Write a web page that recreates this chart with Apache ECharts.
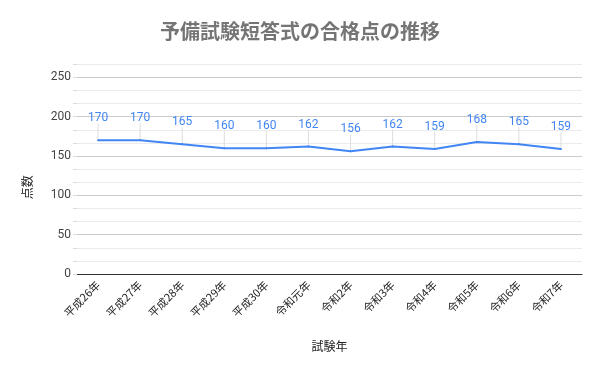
<!DOCTYPE html>
<html>
<head>
<meta charset="utf-8">
<script src="https://cdn.jsdelivr.net/npm/echarts@6/dist/echarts.min.js"></script>
<style>html,body{margin:0;padding:0;background:#fff}#c{width:600px;height:371px}</style>
</head>
<body>
<div id="c"></div>
<script>
const categories = ['平成26年','平成27年','平成28年','平成29年','平成30年','令和元年','令和2年','令和3年','令和4年','令和5年','令和6年','令和7年'];
const scores = [170,170,165,160,160,162,156,162,159,168,165,159];
const chartTitle = '予備試験短答式の合格点の推移';
const xName = '試験年';
const yName = '点数';

const chart = echarts.init(document.getElementById('c'), null, {renderer:'canvas'});
const step = 50/3;
chart.setOption({
  animation:false,
  title:{text:chartTitle,left:'center',top:16,textStyle:{fontFamily:'"Noto Sans CJK JP"',fontSize:20,fontWeight:'bold',color:'#757575'}},
  grid:{left:77,right:18,top:64.3,bottom:97,containLabel:false},
  xAxis:{type:'category',data:categories,boundaryGap:true,
    name:xName,nameLocation:'middle',nameGap:66,
    nameTextStyle:{fontFamily:'"Noto Sans CJK JP"',fontSize:12,color:'#222'},
    axisLine:{lineStyle:{color:'#333',width:1}},
    axisTick:{show:false},
    axisLabel:{rotate:45,interval:0,fontFamily:'"Noto Sans CJK JP"',fontSize:11,color:'#222',margin:9}},
  yAxis:{type:'value',min:0,max:step*16,interval:step,
    name:yName,nameLocation:'middle',nameGap:44,nameRotate:90,
    nameTextStyle:{fontFamily:'"Noto Sans CJK JP"',fontSize:12,color:'#222',padding:[0,36,0,0]},
    axisLine:{show:false},
    axisTick:{show:true,length:4,lineStyle:{color:'#ddd'}},
    axisLabel:{fontFamily:'Roboto, Arial',fontSize:12,color:'#444',margin:6,
      formatter:function(v){const r=Math.round(v/50);return Math.abs(v/50-r)<1e-6?String(r*50):'';}},
    splitLine:{show:true,lineStyle:{color:['#ccc','#ebebeb','#ebebeb'],width:1}}},
  series:[
    {type:'custom',data:scores.map((v,i)=>[i,v]),silent:true,z:1,
     renderItem:function(params,api){
       const p=api.coord([api.value(0),api.value(1)]);
       return {type:'line',shape:{x1:p[0],y1:p[1],x2:p[0],y2:p[1]-17},style:{stroke:'#ddd',lineWidth:1}};
     }},
    {type:'line',data:scores,z:3,symbol:'circle',symbolSize:2,showSymbol:true,
     lineStyle:{color:'#4285f4',width:2},itemStyle:{color:'#4285f4'},
     label:{show:true,position:'top',distance:15,fontFamily:'Roboto, Arial',fontSize:12,color:'#4285f4'}}
  ]
});
</script>
</body>
</html>
